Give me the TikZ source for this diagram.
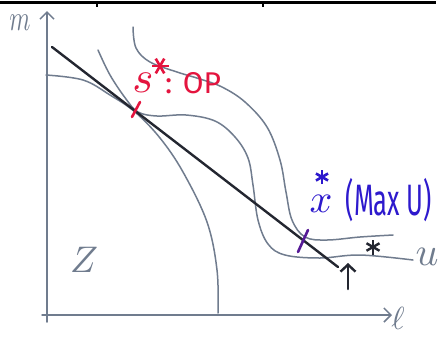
\documentclass[tikz,border=0pt]{standalone}
\usepackage{graphicx}
\usepackage{fontspec}
\setsansfont{Fira Sans}
\usetikzlibrary{arrows.meta}
\definecolor{pencil}{RGB}{112,124,142}
\definecolor{ink}{RGB}{35,38,48}
\definecolor{redink}{RGB}{228,20,62}
\definecolor{blueink}{RGB}{45,25,205}
\definecolor{purpink}{RGB}{85,25,150}
\begin{document}
\begin{tikzpicture}[x=1pt,y=-1pt,
  pencil/.style={draw=pencil, line width=1.5pt, line cap=round},
  axisarrow/.style={pencil, -{Straight Barb[length=7pt,width=14pt,line width=1.5pt]}},
  lbl/.style={inner sep=0pt, text=pencil},
  tick/.style={line width=2.6pt, line cap=round},
]
\useasboundingbox (0,0) rectangle (441,338);
\fill[white] (0,0) rectangle (441,338);
% scan border at top
\draw[black, line width=3pt] (0,2) -- (436,2);
\draw[black, line width=2pt] (97,2) -- (97,7);
\draw[black, line width=2pt] (263,2) -- (263,7);

% axes
\coordinate (ybot) at (47,322);
\coordinate (ytop) at (47,11);
\coordinate (xl) at (42,315);
\coordinate (xr) at (392,315);
\draw[axisarrow] (ybot) -- (ytop);
\draw[axisarrow] (xl) -- (xr);

% production frontier
\draw[pencil] plot[smooth, tension=0.6] coordinates {(46,75) (83,80) (110,95) (135,112) (160,138) (183,172) (207,222) (217,270) (218,313)};

% indifference curve through s*
\draw[pencil] plot[smooth, tension=0.6] coordinates {(98,50) (110,75) (126,99) (138,112) (157,116) (186,115) (215,121) (235,137) (248,158) (253,185) (258,220) (268,244) (285,255) (320,258) (360,255) (413,260)};

% higher indifference curve
\draw[pencil] plot[smooth, tension=0.6] coordinates {(133,27) (136,48) (150,62) (177,72) (200,79) (222,87) (245,102) (267,127) (280,160) (286,192) (292,220) (305,237) (327,240) (360,237) (393,235)};

% budget line
\coordinate (b1) at (52,47);
\coordinate (b2) at (338,267);
\draw[ink, line width=2.4pt, line cap=round] (b1) -- (b2);

% marks
\draw[redink, tick] (140,102) -- (132,117);
\draw[purpink, tick] (298,252) -- (308,230);
\foreach \a in {0,60,120} {
  \draw[redink, line width=2.6pt] (160,66) ++(\a:8.5) -- ++(\a+180:17);
  \draw[blueink, line width=2.6pt] (322,177) ++(\a+90:7) -- ++(\a+270:14);
  \draw[ink, line width=2.4pt] (373,247) ++(\a+90:7.5) -- ++(\a+270:15);
}
\coordinate (arrbot) at (348,289);
\coordinate (arrtop) at (348,263);
\draw[ink, line width=2.6pt, line cap=round, -{Straight Barb[length=7pt,width=15pt,line width=2.4pt]}] (arrbot) -- (arrtop);

% labels
\node[lbl, xscale=2.4, yscale=3.6] (mlab) at (20,23) {$m$};
\node[lbl, scale=3.2] (llab) at (398,318) {$\ell$};
\node[lbl, scale=3.7] (zlab) at (84,260) {$Z$};
\node[lbl, scale=4] (ulab) at (427,257) {$u$};
\node[inner sep=0pt, text=redink, scale=4.5] (slab) at (143,83) {$s$};
\node[inner sep=0pt, text=redink, font=\sffamily\fontsize{30}{30}\selectfont] (oplab) at (193,83) {: OP};
\node[inner sep=0pt, text=blueink, scale=4] (xlab) at (321,204) {$x$};
\node[inner sep=0pt, text=blueink, font=\sffamily\fontsize{44}{44}\selectfont] (maxlab) at (389,200) {\scalebox{0.58}[1]{(Max U)}};
\end{tikzpicture}
\end{document}
